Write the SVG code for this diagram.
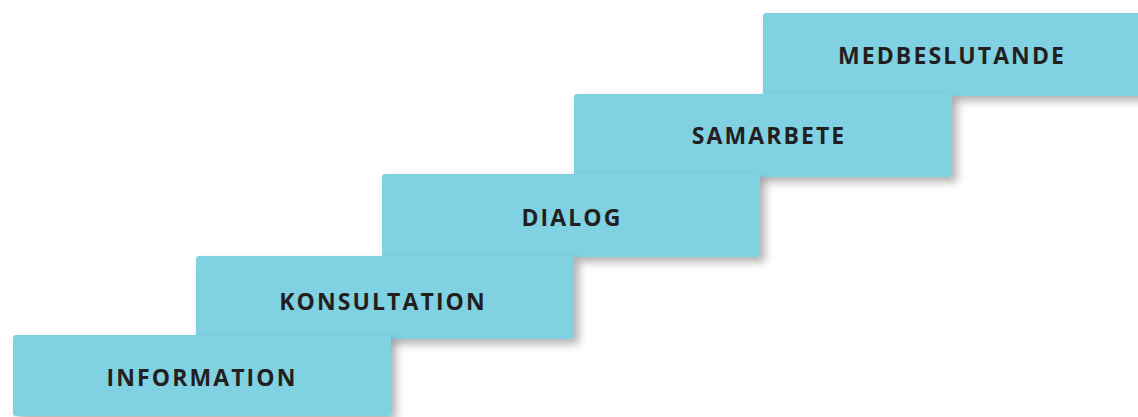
<svg xmlns="http://www.w3.org/2000/svg" width="1138" height="417" viewBox="0 0 1138 417">
  <style>
    .step { fill: #80d2e3; filter: url(#sh); }
    .lbl { font-family: "Open Sans", "Liberation Sans", sans-serif; font-weight: 700; font-size: 23px; letter-spacing: 2.1px; fill: #231f20; text-anchor: middle; }
  </style>
  <defs>
    <filter id="sh" x="-10%" y="-20%" width="130%" height="160%">
      <feDropShadow dx="5" dy="5" stdDeviation="4" flood-color="#000" flood-opacity="0.3"/>
    </filter>
  </defs>
  <rect width="1138" height="417" fill="#fff"/>
  <g id="medbeslutande">
    <rect class="step" x="763" y="13" width="380" height="83" rx="3"/>
    <text class="lbl" x="952" y="64">MEDBESLUTANDE</text>
  </g>
  <g id="samarbete">
    <rect class="step" x="574" y="94" width="378" height="83" rx="3"/>
    <text class="lbl" x="769" y="144">SAMARBETE</text>
  </g>
  <g id="dialog">
    <rect class="step" x="382" y="174" width="378" height="83" rx="3"/>
    <text class="lbl" x="572" y="226">DIALOG</text>
  </g>
  <g id="konsultation">
    <rect class="step" x="196" y="256" width="378" height="83" rx="3"/>
    <text class="lbl" x="383" y="310">KONSULTATION</text>
  </g>
  <g id="information">
    <rect class="step" x="13" y="335" width="378" height="81" rx="3"/>
    <text class="lbl" x="202" y="386">INFORMATION</text>
  </g>
  <g id="connectors"/>
</svg>
